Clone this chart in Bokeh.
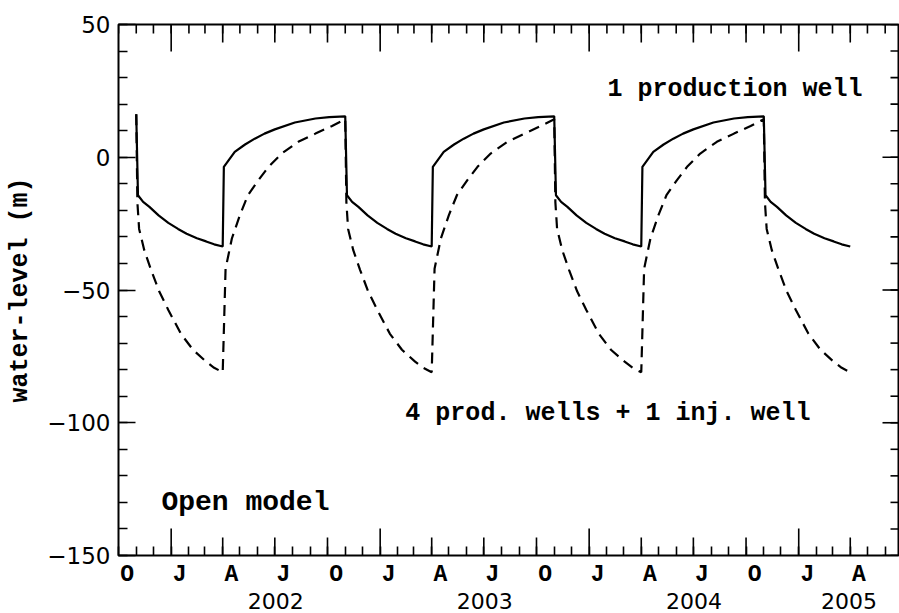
import pandas as pd
from math import pi
from bokeh.plotting import figure
from bokeh.models import (Range1d, FixedTicker, LinearAxis, CustomJSTickFormatter,
                          Label, ColumnDataSource)
from bokeh.embed import file_html
from bokeh.resources import INLINE

# ---------------- data ----------------
solid_dates = [
    "2001-11-01", "2001-11-04", "2001-11-13", "2001-11-24", "2001-12-10", "2001-12-27",
    "2002-01-13", "2002-01-28", "2002-02-15", "2002-03-03", "2002-03-17", "2002-04-01",
    "2002-04-03", "2002-04-22", "2002-05-10", "2002-05-27", "2002-06-13", "2002-07-01",
    "2002-08-05", "2002-09-10", "2002-10-04", "2002-11-01",
    "2002-11-04", "2002-11-13", "2002-11-24", "2002-12-10", "2002-12-27",
    "2003-01-13", "2003-01-28", "2003-02-15", "2003-03-03", "2003-03-17", "2003-04-01",
    "2003-04-03", "2003-04-22", "2003-05-10", "2003-05-27", "2003-06-13", "2003-07-01",
    "2003-08-05", "2003-09-10", "2003-10-04", "2003-11-01",
    "2003-11-04", "2003-11-13", "2003-11-24", "2003-12-10", "2003-12-27",
    "2004-01-13", "2004-01-28", "2004-02-15", "2004-03-03", "2004-03-17", "2004-04-01",
    "2004-04-03", "2004-04-22", "2004-05-10", "2004-05-27", "2004-06-13", "2004-07-01",
    "2004-08-05", "2004-09-10", "2004-10-04", "2004-11-01",
    "2004-11-04", "2004-11-13", "2004-11-24", "2004-12-10", "2004-12-27",
    "2005-01-13", "2005-01-28", "2005-02-15", "2005-03-03", "2005-03-17", "2005-04-01",
]
solid_values = [
    16.2, -14.3, -16.8, -18.7, -21.9, -24.7,
    -27.0, -28.8, -30.5, -31.7, -32.8, -33.6,
    -3.6, 2.0, 4.8, 7.0, 8.9, 10.5,
    13.1, 14.6, 15.1, 15.4,
    -14.3, -16.8, -18.7, -21.9, -24.7,
    -27.0, -28.8, -30.5, -31.7, -32.8, -33.6,
    -3.6, 2.0, 4.8, 7.0, 8.9, 10.5,
    13.1, 14.6, 15.1, 15.4,
    -14.3, -16.8, -18.7, -21.9, -24.7,
    -27.0, -28.8, -30.5, -31.7, -32.8, -33.6,
    -3.6, 2.0, 4.8, 7.0, 8.9, 10.5,
    13.1, 14.6, 15.1, 15.4,
    -14.3, -16.8, -18.7, -21.9, -24.7,
    -27.0, -28.8, -30.5, -31.7, -32.8, -33.6,
]

dashed_dates = [
    "2001-11-01", "2001-11-03", "2001-11-06", "2001-11-15", "2001-11-27", "2001-12-11",
    "2001-12-27", "2002-01-18", "2002-02-08", "2002-03-03", "2002-03-17", "2002-04-01",
    "2002-04-06", "2002-04-17", "2002-05-01", "2002-05-15", "2002-06-02", "2002-06-20",
    "2002-07-13", "2002-08-11", "2002-09-10", "2002-10-09", "2002-11-01",
    "2002-11-03", "2002-11-06", "2002-11-15", "2002-11-27", "2002-12-11",
    "2002-12-27", "2003-01-18", "2003-02-08", "2003-03-03", "2003-03-17", "2003-04-01",
    "2003-04-06", "2003-04-17", "2003-05-01", "2003-05-15", "2003-06-02", "2003-06-20",
    "2003-07-13", "2003-08-11", "2003-09-10", "2003-10-09", "2003-11-01",
    "2003-11-03", "2003-11-06", "2003-11-15", "2003-11-27", "2003-12-11",
    "2003-12-27", "2004-01-18", "2004-02-08", "2004-03-03", "2004-03-17", "2004-04-01",
    "2004-04-06", "2004-04-17", "2004-05-01", "2004-05-15", "2004-06-02", "2004-06-20",
    "2004-07-13", "2004-08-11", "2004-09-10", "2004-10-09", "2004-11-01",
    "2004-11-03", "2004-11-06", "2004-11-15", "2004-11-27", "2004-12-11",
    "2004-12-27", "2005-01-18", "2005-02-08", "2005-03-03", "2005-03-17", "2005-04-01",
]
dashed_values = [
    16.2, -17.0, -27.0, -35.0, -42.5, -50.5,
    -57.5, -66.5, -72.5, -77.0, -79.3, -81.0,
    -42.0, -30.6, -21.8, -14.3, -8.7, -3.6,
    1.4, 5.8, 8.9, 11.8, 14.3,
    -17.0, -27.0, -35.0, -42.5, -50.5,
    -57.5, -66.5, -72.5, -77.0, -79.3, -81.0,
    -42.0, -30.6, -21.8, -14.3, -8.7, -3.6,
    1.4, 5.8, 8.9, 11.8, 14.3,
    -17.0, -27.0, -35.0, -42.5, -50.5,
    -57.5, -66.5, -72.5, -77.0, -79.3, -81.0,
    -42.0, -30.6, -21.8, -14.3, -8.7, -3.6,
    1.4, 5.8, 8.9, 11.8, 14.3,
    -17.0, -27.0, -35.0, -42.5, -50.5,
    -57.5, -66.5, -72.5, -77.0, -79.3, -81.0,
]

quarter_labels = ["O", "J", "A", "J", "O", "J", "A", "J", "O", "J", "A", "J", "O", "J", "A"]
quarter_label_months = ["2001-10", "2002-01", "2002-04", "2002-07", "2002-10", "2003-01",
                        "2003-04", "2003-07", "2003-10", "2004-01", "2004-04", "2004-07",
                        "2004-10", "2005-01", "2005-04"]
year_labels = ["2002", "2003", "2004", "2005"]
y_major = [-150, -100, -50, 0, 50]
y_minor = list(range(-150, 51, 10))

annotations = [
    ("1 production well", "2004-02-02", 25.5, "25px"),
    ("4 prod. wells + 1 inj. well", "2003-02-14", -96.4, "25px"),
    ("Open model", "2001-12-15", -130.2, "28px"),
]

# ---------------- helpers ----------------
def ms(d):
    return pd.Timestamp(d).value / 1e6

X0 = pd.Timestamp("2001-10-01")
X1 = pd.Timestamp("2005-06-26")
Y0, Y1 = -150, 50

month_starts = [d for d in pd.date_range(X0, X1, freq="MS")]
month_ticks = [ms(d) for d in month_starts]
quarter_ticks = [ms(d) for d in month_starts if d.month in (4, 7, 10) and d > X0]
year_ticks = [ms(d) for d in month_starts if d.month == 1]
label_ticks = [ms(pd.Timestamp(m + "-01") + pd.Timedelta(days=15)) for m in quarter_label_months]
year_label_ticks = []
for y in year_labels:
    a = max(pd.Timestamp(y + "-01-01"), X0)
    b = min(pd.Timestamp(str(int(y) + 1) + "-01-01"), X1)
    year_label_ticks.append((ms(a) + ms(b)) / 2)

lookup_code = """
let best = 0, bd = Infinity;
for (let i = 0; i < pos.length; i++) {
  const d = Math.abs(pos[i] - tick);
  if (d < bd) { bd = d; best = i; }
}
return labs[best];
"""

p = figure(width=899, height=613, x_axis_type="datetime",
           x_range=Range1d(ms(X0), ms(X1)), y_range=Range1d(Y0, Y1),
           output_backend="svg", toolbar_location=None,
           min_border_left=118, min_border_top=24, min_border_right=0, min_border_bottom=58)
p.xgrid.visible = False
p.ygrid.visible = False
p.background_fill_color = "white"
p.border_fill_color = "white"
p.outline_line_color = "black"
p.outline_line_width = 2

s_src = ColumnDataSource(dict(x=pd.to_datetime(solid_dates), y=solid_values))
d_src = ColumnDataSource(dict(x=pd.to_datetime(dashed_dates), y=dashed_values))
p.line("x", "y", source=d_src, line_color="black", line_width=2.2, line_dash="11 7")
p.line("x", "y", source=s_src, line_color="black", line_width=2.2)

TICK_W = 1.6
# bottom letters axis
xa = p.xaxis[0]
xa.ticker = FixedTicker(ticks=label_ticks, minor_ticks=month_ticks)
xa.formatter = CustomJSTickFormatter(args=dict(pos=label_ticks, labs=quarter_labels), code=lookup_code)
xa.major_tick_in = 0
xa.major_tick_out = 0
xa.minor_tick_in = 9
xa.minor_tick_out = 0
xa.minor_tick_line_width = TICK_W
xa.minor_tick_line_color = "black"
xa.axis_line_color = None
xa.major_label_text_font = "Liberation Mono"
xa.major_label_text_font_style = "bold"
xa.major_label_text_font_size = "23px"
xa.major_label_text_color = "black"
xa.major_label_standoff = 6

# bottom years axis
ya2 = LinearAxis(ticker=FixedTicker(ticks=year_label_ticks, minor_ticks=[]),
                 formatter=CustomJSTickFormatter(args=dict(pos=year_label_ticks, labs=year_labels), code=lookup_code),
                 major_tick_in=0, major_tick_out=0, minor_tick_in=0, minor_tick_out=0,
                 axis_line_color=None, major_label_standoff=2,
                 major_label_text_font="DejaVu Sans", major_label_text_font_size="22px",
                 major_label_text_color="black")
p.add_layout(ya2, "below")

# left axis
la = p.yaxis[0]
la.ticker = FixedTicker(ticks=y_major, minor_ticks=y_minor)
la.formatter = CustomJSTickFormatter(code="return tick < 0 ? '\\u2212' + Math.abs(tick) : String(tick);")
la.major_tick_in = 17
la.major_tick_out = 0
la.minor_tick_in = 9
la.minor_tick_out = 0
la.major_tick_line_width = TICK_W
la.minor_tick_line_width = TICK_W
la.major_tick_line_color = "black"
la.minor_tick_line_color = "black"
la.axis_line_color = None
la.major_label_text_font = "DejaVu Sans"
la.major_label_text_font_size = "23px"
la.major_label_text_color = "black"
la.major_label_standoff = 8
la.axis_label = "water-level (m)"
la.axis_label_text_font = "Liberation Mono"
la.axis_label_text_font_style = "bold"
la.axis_label_text_font_size = "25px"
la.axis_label_text_color = "black"
la.axis_label_standoff = 9

# frame ticks not handled by the axes above (screen-length rays from the frame edges)
def frame_ticks(xs, ys, length, angle):
    p.ray(x=xs, y=ys, length=length, angle=angle, length_units="screen",
          line_color="black", line_width=TICK_W)

# bottom: quarter and year boundaries
frame_ticks(quarter_ticks, [Y0] * len(quarter_ticks), 18, pi / 2)
frame_ticks(year_ticks, [Y0] * len(year_ticks), 27, pi / 2)
# top: month, quarter and year boundaries
frame_ticks(month_ticks, [Y1] * len(month_ticks), 9, -pi / 2)
frame_ticks(quarter_ticks, [Y1] * len(quarter_ticks), 18, -pi / 2)
frame_ticks(year_ticks, [Y1] * len(year_ticks), 27, -pi / 2)
# right: minor and major y ticks
frame_ticks([ms(X1)] * len(y_minor), y_minor, 9, pi)
frame_ticks([ms(X1)] * len(y_major), y_major, 17, pi)

for txt, d, v, fs in annotations:
    p.add_layout(Label(x=ms(d), y=v, text=txt, text_font="Liberation Mono",
                       text_font_style="bold", text_font_size=fs,
                       text_baseline="alphabetic", text_align="left", text_color="black"))

open("out.html", "w").write(file_html(p, INLINE))
